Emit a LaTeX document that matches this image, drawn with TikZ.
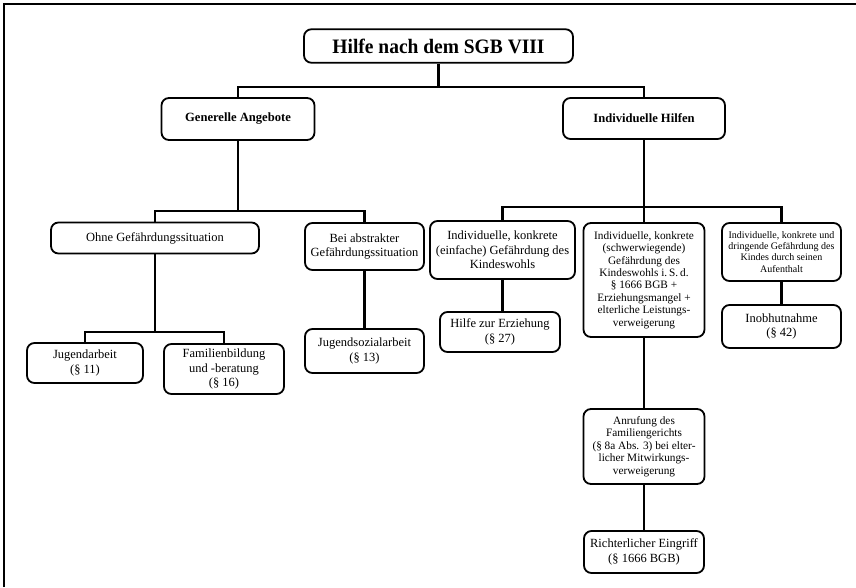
\documentclass[tikz,border=0pt]{standalone}
\usepackage{fontspec}
\setmainfont{Liberation Serif}
\newfontfamily\titlefont[FakeStretch=0.95]{Liberation Serif}
\begin{document}
\begin{tikzpicture}[x=1pt,y=-1pt]
\tikzset{
  bx/.style={draw, line width=1.8pt, rounded corners=7.5pt, align=center, inner sep=0pt,
    font=\fontsize{12.5}{14.5}\selectfont},
  hd/.style={bx, font=\bfseries\fontsize{12.6}{14}\selectfont},
  ttl/.style={bx, font=\titlefont\bfseries\fontsize{20.5}{22}\selectfont},
  sm/.style={font=\fontsize{11.3}{12.4}\selectfont},
  xs/.style={font=\fontsize{10}{11.1}\selectfont},
  ln/.style={line width=2.2pt},
  frame/.style={line width=1.5pt}
}
\useasboundingbox (0,0) rectangle (856,587);
\coordinate (fa) at (4,587);
\coordinate (fb) at (4,4);
\coordinate (fc) at (856,4);
\draw[frame] (fa) -- (fb) -- (fc);

\node[ttl, minimum width=269, minimum height=33.5] (title) at (438.5,46) {Hilfe nach dem SGB VIII};
\node[hd, minimum width=153, minimum height=42] (gen) at (238,119) {Generelle Angebote};
\node[hd, minimum width=162, minimum height=41] (ind) at (644,118.5) {Individuelle Hilfen};

\node[bx, minimum width=208, minimum height=31] (ohne) at (155,238) {Ohne Gefährdungssituation};
\node[bx, minimum width=119, minimum height=47] (bei) at (364.5,246.5) {Bei abstrakter\\Gefährdungssituation};
\node[bx, minimum width=116, minimum height=40] (jug) at (85,363) {Jugendarbeit\\(§ 11)};
\node[bx, minimum width=120, minimum height=50] (fam) at (224,369) {Familienbildung\\und -beratung\\(§ 16)};
\node[bx, minimum width=119, minimum height=44] (jsa) at (364.5,351) {Jugendsozialarbeit\\(§ 13)};

\node[bx, minimum width=145, minimum height=58] (einf) at (502.5,250) {Individuelle, konkrete\\(einfache) Gefährdung des\\Kindeswohls};
\node[bx, minimum width=120, minimum height=40] (hze) at (500,332) {Hilfe zur Erziehung\\(§ 27)};
\node[bx, sm, minimum width=121, minimum height=114] (mid) at (644,280) {Individuelle, konkrete\\(schwerwiegende)\\Gefährdung des\\Kindeswohls i.\,S.\,d.\\§ 1666 BGB +\\Erziehungsmangel +\\elterliche Leistungs-\\verweigerung};
\node[bx, xs, minimum width=119, minimum height=58] (right) at (781.5,252) {Individuelle, konkrete und\\dringende Gefährdung des\\Kindes durch seinen\\Aufenthalt};
\node[bx, minimum width=119, minimum height=43] (inob) at (781.5,326.5) {Inobhutnahme\\(§ 42)};
\node[bx, sm, minimum width=121, minimum height=75] (anr) at (644,446.5) {Anrufung des\\Familiengerichts\\(§ 8a Abs. 3) bei elter-\\licher Mitwirkungs-\\verweigerung};
\node[bx, minimum width=120, minimum height=42] (rich) at (644,552) {Richterlicher Eingriff\\(§ 1666 BGB)};

\coordinate (j1) at (438.5,87);
\coordinate (j2) at (238,211);
\coordinate (j3) at (155,332);
\coordinate (j4) at (644,207);

\draw[ln] (title.south) -- (j1);
\draw[ln] (gen.north) |- (j1) -| (ind.north);
\draw[ln] (gen.south) -- (j2);
\draw[ln] (ohne.north) |- (j2) -| (bei.north);
\draw[ln] (ohne.south) -- (j3);
\draw[ln] (jug.north) |- (j3) -| (fam.north);
\draw[ln] (bei.south) -- (jsa.north);
\draw[ln] (ind.south) -- (j4);
\draw[ln] (einf.north) |- (j4) -| (right.north);
\draw[ln] (j4) -- (mid.north);
\draw[ln] (einf.south) -- (einf.south |- hze.north);
\draw[ln] (right.south) -- (inob.north);
\draw[ln] (mid.south) -- (anr.north);
\draw[ln] (anr.south) -- (rich.north);
\end{tikzpicture}
\end{document}
